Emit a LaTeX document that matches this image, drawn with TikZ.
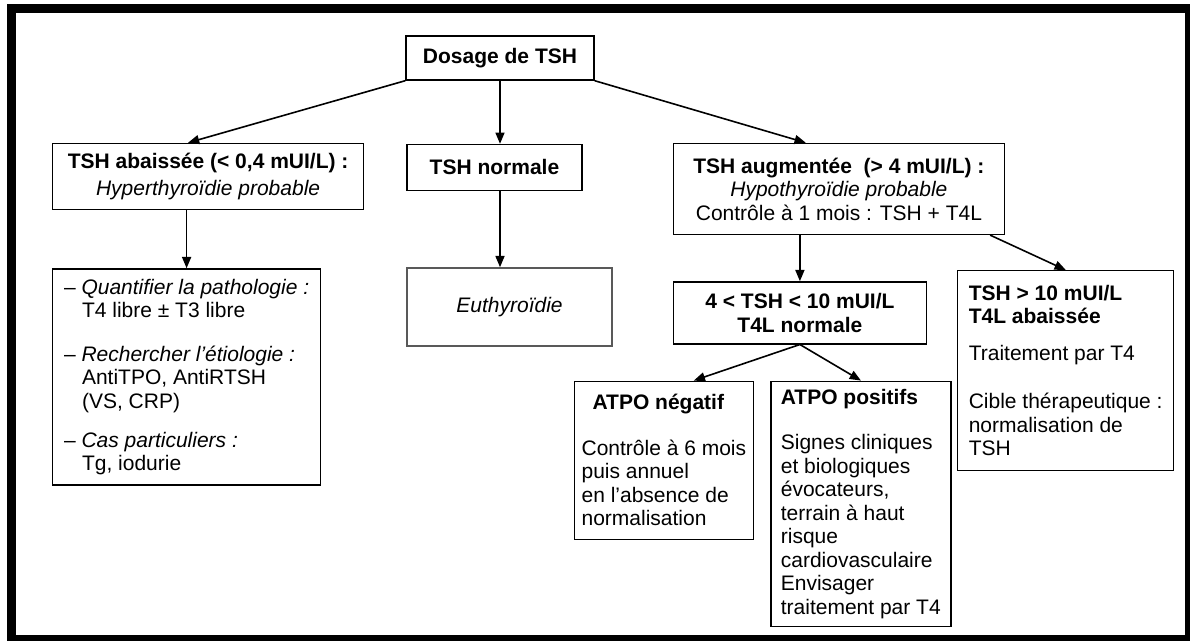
\documentclass[tikz,border=0pt]{standalone}
\usepackage{fontspec}
\setmainfont{Liberation Sans}
\usepackage{tikz}
\usetikzlibrary{calc}
\usetikzlibrary{positioning}
\usetikzlibrary{bayesnet}
\usetikzlibrary{arrows}

\tikzset{
  box/.style={rectangle, draw, line width=1.4pt, inner sep=0pt, align=center},
  lbox/.style={rectangle, draw, line width=1.4pt, inner sep=0pt, align=left},
  conn/.style={line width=1.6pt},
}

\begin{document}
\begin{tikzpicture}[x=1pt, y=-1pt, every node/.style={font=\fontsize{21}{23.5}\selectfont}]

    % Frame
    \useasboundingbox (0,0) rectangle (1190,641);
    \fill[black] (7,4) rectangle (1190,641);
    \fill[white] (16,13) rectangle (1185,635);

    % Define nodes
    \node[box, minimum width=188pt, minimum height=44pt] (dosage) at (500,58) {\textbf{Dosage de TSH}};
    \node[box, minimum width=311pt, minimum height=66pt, below left=62pt and 41pt of dosage] (abaissee)
      {\textbf{TSH abaissée (< 0,4 mUI/L) :}\\[3pt] \textit{Hyperthyroïdie probable}};
    \node[box, minimum width=175pt, minimum height=46pt, below=63pt of dosage, xshift=-5.5pt] (normale) {\textbf{TSH normale}};
    \node[box, minimum width=331pt, minimum height=91pt, below right=62pt and 78pt of dosage] (augmentee)
      {\textbf{TSH augmentée \ (> 4 mUI/L) :}\\ \textit{Hypothyroïdie probable}\\ Contrôle à 1 mois : TSH + T4L};
    \node[lbox, minimum width=268pt, minimum height=216pt, below=58pt of abaissee.south west, anchor=north west] (quantif)
      {– \textit{Quantifier la pathologie :}\\
       \hspace*{18pt}T4 libre ± T3 libre\\[20pt]
       – \textit{Rechercher l'étiologie :}\\
       \hspace*{18pt}AntiTPO, AntiRTSH\\
       \hspace*{18pt}(VS, CRP)\\[16pt]
       – \textit{Cas particuliers :}\\[-1pt]
       \hspace*{18pt}Tg, iodurie};
    \node[box, draw=black!65, minimum width=205pt, minimum height=78pt, below=76pt of normale.south west, anchor=north west] (euthyr)
      {\textit{Euthyroïdie}};
    \node[box, minimum width=253pt, minimum height=62pt, below=46pt of augmentee.south west, anchor=north west] (mid)
      {\textbf{4 < TSH < 10 mUI/L}\\ \textbf{T4L normale}};
    \node[lbox, minimum width=216pt, minimum height=200pt, anchor=north west] (high) at (957,270)
      {\textbf{TSH > 10 mUI/L}\\
       \textbf{T4L abaissée}\\[13pt]
       Traitement par T4\\[25pt]
       Cible thérapeutique :\\
       normalisation de\\
       TSH};
    \node[lbox, minimum width=179pt, minimum height=158pt, below=36pt of mid.south west, xshift=-99pt, anchor=north west] (neg)
      {\hspace*{11pt}\textbf{ATPO négatif}\\[22pt]
       Contrôle à 6 mois\\
       puis annuel\\
       en l'absence de\\
       normalisation};
    \node[lbox, minimum width=180pt, minimum height=245pt, right=16pt of neg.north east, anchor=north west] (pos)
      {\textbf{ATPO positifs}\\[22pt]
       Signes cliniques\\
       et biologiques\\
       évocateurs,\\
       terrain à haut\\
       risque\\
       cardiovasculaire\\
       Envisager\\
       traitement par T4};

    % Connect the nodes
    \coordinate (abain) at ($(abaissee.north)+(-20,0)$);
    \coordinate (augin) at ($(augmentee.north west)!0.4!(augmentee.north east)$);
    \coordinate (augout) at ($(augmentee.south east)+(-15,0)$);
    \coordinate (negin) at ($(neg.north)+(30,0)$);
    \edge[conn] {dosage.south west} {abain};
    \edge[conn] {dosage.south} {dosage.south |- normale.north};
    \edge[conn] {dosage.south east} {augin};
    \edge[conn] {quantif.north |- abaissee.south} {quantif.north};
    \edge[conn] {dosage.south |- normale.south} {dosage.south |- euthyr.north};
    \edge[conn] {mid.north |- augmentee.south} {mid.north};
    \edge[conn] {augout} {high.north};
    \edge[conn] {mid.south} {negin, pos.north};

\end{tikzpicture}
\end{document}
